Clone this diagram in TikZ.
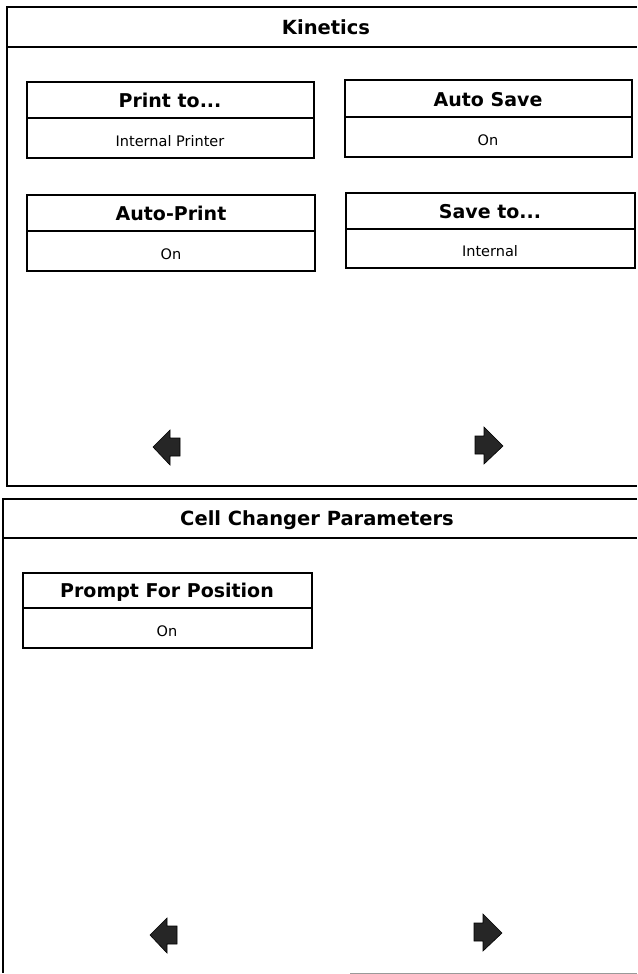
\documentclass[tikz,border=0pt]{standalone}
\usepackage{fontspec}
\setmainfont{DejaVu Sans}
\begin{document}
\begin{tikzpicture}[x=1pt,y=-1pt,
  frame/.style={draw=black, line width=1.3pt},
  titlebar/.style={draw=black, line width=2.2pt},
  boxline/.style={draw=black, line width=1.3pt},
  hdr/.style={font=\fontsize{19}{21}\selectfont\bfseries, inner sep=0pt, anchor=base},
  val/.style={font=\fontsize{14.5}{16}\selectfont, inner sep=0pt, anchor=base},
  ttl/.style={font=\fontsize{19.5}{21}\selectfont\bfseries, inner sep=0pt, anchor=base},
  navfill/.style={fill=black!85, draw=black, line width=0.6pt},
  larrow/.pic={\path[navfill] (0,0)--(17,-17)--(17,-9)--(27,-9)--(27,9)--(17,9)--(17,18)--cycle;},
  rarrow/.pic={\path[navfill] (0,0)--(-19,-19)--(-19,-10)--(-28,-10)--(-28,8)--(-19,8)--(-19,18)--cycle;}]
\useasboundingbox (0,0) rectangle (637,974);

% ---------- Top panel: Kinetics ----------
\draw[frame] (637,7) -- (7,7) -- (7,486) -- (637,486);
\draw[titlebar] (7,47) -- (637,47);
\node[ttl] (kin) at (326,35) {Kinetics};

% Print to...
\draw[boxline] (27,82) rectangle (314,158);
\draw[boxline] (27,118) -- (314,118);
\node[hdr] (p1h) at (170,107) {Print to...};
\node[val] (p1v) at (170,146) {Internal Printer};

% Auto Save
\draw[boxline] (345,80) rectangle (632,157);
\draw[boxline] (345,117) -- (632,117);
\node[hdr] (p2h) at (488,106) {Auto Save};
\node[val] (p2v) at (488,145) {On};

% Auto-Print
\draw[boxline] (27,195) rectangle (315,271);
\draw[boxline] (27,231) -- (315,231);
\node[hdr] (p3h) at (171,220) {Auto-Print};
\node[val] (p3v) at (171,259) {On};

% Save to...
\draw[boxline] (346,193) rectangle (635,268);
\draw[boxline] (346,229) -- (635,229);
\node[hdr] (p4h) at (490,218) {Save to...};
\node[val] (p4v) at (490,256) {Internal};

% navigation arrows
\pic at (153,447) {larrow};
\pic at (503,446) {rarrow};

% ---------- Bottom panel: Cell Changer Parameters ----------
\draw[frame] (637,499) -- (3,499) -- (3,973);
\draw[titlebar] (3,538) -- (637,538);
\draw[black!40, line width=0.8pt] (350,973) -- (637,973);
\node[ttl] (ccp) at (317,525) {Cell Changer Parameters};

% Prompt For Position
\draw[boxline] (23,573) rectangle (312,648);
\draw[boxline] (23,608) -- (312,608);
\node[hdr] (p5h) at (167,597) {Prompt For Position};
\node[val] (p5v) at (167,636) {On};

% navigation arrows
\pic at (150,935) {larrow};
\pic at (502,933) {rarrow};
\end{tikzpicture}
\end{document}
